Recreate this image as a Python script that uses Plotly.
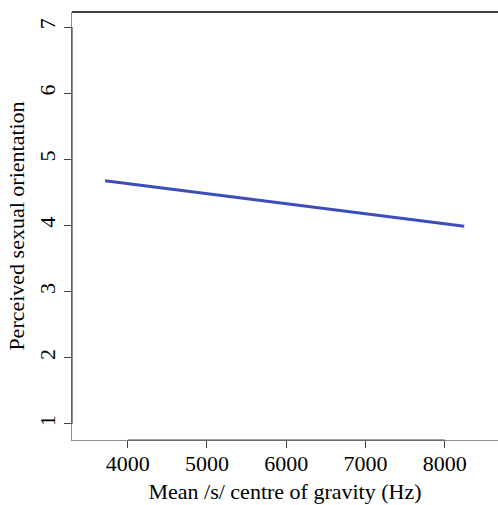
import plotly.graph_objects as go

# Fitted relationship: mean /s/ centre of gravity vs perceived sexual orientation
cog_hz = [3714, 8247]
perceived = [4.677, 3.988]

x_ticks = [4000, 5000, 6000, 7000, 8000]
y_ticks = [1, 2, 3, 4, 5, 6, 7]

x_range = [3297, 8673]
y_range = [0.758, 7.227]

FONT = "Liberation Serif"
FS = 22
AXIS_GREY = "#8c8c8c"
AXIS_DARK = "#444444"

fig = go.Figure()
fig.add_trace(go.Scatter(
    x=cog_hz, y=perceived, mode="lines",
    line=dict(color="#3c4fb8", width=3),
    hoverinfo="skip", showlegend=False,
))

shapes = [
    # top frame line
    dict(type="line", xref="paper", yref="paper", x0=0, x1=1, y0=1, y1=1,
         line=dict(color="black", width=1.5)),
    # darker axis segments spanning the tick range
    dict(type="line", xref="x", yref="paper", x0=x_ticks[0], x1=x_ticks[-1], y0=0, y1=0,
         line=dict(color=AXIS_DARK, width=1.2)),
    dict(type="line", xref="paper", yref="y", x0=0, x1=0, y0=y_ticks[0], y1=y_ticks[-1],
         line=dict(color=AXIS_DARK, width=1.2)),
]

fig.update_layout(
    width=498, height=505,
    margin=dict(l=72, r=0, t=12, b=65),
    paper_bgcolor="white", plot_bgcolor="white",
    font=dict(family=FONT, size=FS, color="black"),
    shapes=shapes,
    xaxis=dict(
        range=x_range, tickvals=x_ticks, ticktext=[str(v) for v in x_ticks],
        showgrid=False, zeroline=False,
        showline=True, linecolor=AXIS_GREY, linewidth=1.2,
        ticks="outside", ticklen=7, tickcolor=AXIS_DARK, tickwidth=1,
        ticklabelstandoff=-4,
        tickfont=dict(family=FONT, size=FS),
        title=dict(text="Mean /s/ centre of gravity (Hz)", font=dict(family=FONT, size=FS), standoff=9),
    ),
    yaxis=dict(
        range=y_range, tickvals=y_ticks, ticktext=[str(v) for v in y_ticks],
        showgrid=False, zeroline=False,
        showline=True, linecolor=AXIS_GREY, linewidth=1.2,
        ticks="outside", ticklen=7, tickcolor=AXIS_DARK, tickwidth=1,
        tickangle=-90,
        tickfont=dict(family=FONT, size=FS),
        title=dict(text="Perceived sexual orientation", font=dict(family=FONT, size=FS), standoff=4),
    ),
)

fig.write_html("out.html")
